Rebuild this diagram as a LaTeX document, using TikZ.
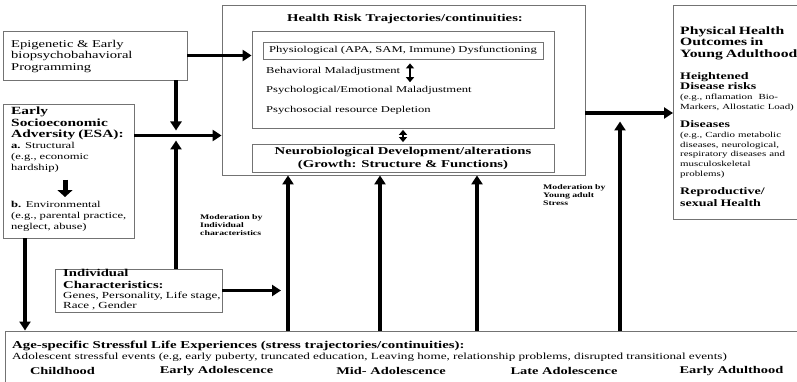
\documentclass[tikz,border=0pt]{standalone}
\usepackage{fontspec}
\setmainfont{Liberation Serif}[FakeStretch=1.4]
\usepackage{tikz}
\usetikzlibrary{arrows.meta,positioning,calc}

\begin{document}
\begin{tikzpicture}[x=1pt, y=-1pt,
    box/.style={rectangle, draw=black!55, line width=0.8pt, inner sep=0pt},
    txt/.style={inner sep=0pt, align=left, font=\fontsize{9}{11}\selectfont},
    head/.style={inner sep=0pt, align=center, font=\fontsize{10.5}{13}\selectfont\bfseries},
    modtxt/.style={inner sep=0pt, align=left, font=\fontsize{7}{8}\selectfont\bfseries},
    stage/.style={inner sep=0pt, font=\fontsize{10.3}{12}\selectfont\bfseries},
    arrow/.style={line width=3.5pt, -{Triangle[length=9pt, width=11pt]}},
    dblarrow/.style={line width=2.2pt, {Triangle[length=5pt, width=8pt]}-{Triangle[length=5pt, width=8pt]}, shorten <=1.5pt, shorten >=1.5pt},
    fatarrow/.style={line width=5pt, -{Triangle[length=7pt, width=15pt]}}
]
\useasboundingbox (0,0) rectangle (797,382);

% left column
\node[box, minimum width=184, minimum height=49] (epi) at (95,55.5) {};
\node[txt, anchor=west, font=\fontsize{10.4}{11.7}\selectfont] (epitxt) at (11,56.5) {Epigenetic \& Early\\biopsychobahavioral\\Programming};

\node[box, minimum width=131, minimum height=134] (esa) at (68.5,171) {};
\node[txt, anchor=north west, text width=122] (esaA) at (11,107) {%
  {\fontsize{11}{11.2}\selectfont\bfseries Early\\Socioeconomic\\Adversity (ESA):\par}
  {\fontsize{9}{11.2}\selectfont\textbf{a.} Structural\\(e.g., economic\\hardship)\par}};
\node[txt, anchor=north west, text width=122] (esaB) at (11,201) {%
  \textbf{b.} Environmental\\(e.g., parental practice,\\neglect, abuse)};
\coordinate (esax) at (65,0);
\draw[fatarrow, shorten <=7pt, shorten >=4pt] (esaA.south -| esax) -- (esaB.north -| esax);

\node[box, minimum width=167, minimum height=43] (ind) at (138.5,290.5) {};
\node[txt, anchor=north west, text width=165] (indtxt) at (63,269.5) {%
  {\fontsize{10.5}{11.5}\selectfont\bfseries Individual\\Characteristics:\par}
  {\fontsize{9.3}{10}\selectfont Genes, Personality, Life stage,\\Race , Gender\par}};

% health risk trajectories
\node[box, minimum width=363, minimum height=170] (outer) at (403.5,90) {};
\node[head] (title) at (405,19) {Health Risk Trajectories/continuities:};
\node[box, minimum width=302, minimum height=97] (hrt) at (403,79.5) {};
\node[box, minimum width=280, minimum height=17, font=\fontsize{9}{11}\selectfont] (physio) at (403,50.5) {Physiological (APA, SAM, Immune) Dysfunctioning};
\node[txt, anchor=west] (behav) at (266,71) {Behavioral Maladjustment};
\node[txt, anchor=west] (psych) at (266,90.5) {Psychological/Emotional Maladjustment};
\node[txt, anchor=west] (depl) at (266,110) {Psychosocial resource Depletion};
\node[box, head, minimum width=302, minimum height=28] (neuro) at (403,158) {Neurobiological Development/alterations\\(Growth: Structure \& Functions)};

% outcomes
\node[box, minimum width=126, minimum height=214, anchor=north west] (phys) at (673,5) {};
\node[txt, anchor=north west, text width=135] (phystxt) at (680,26.5) {%
  {\fontsize{11.2}{11.5}\selectfont\bfseries Physical Health\\Outcomes in\\Young Adulthood\par}
  \vspace{12pt}
  {\fontsize{10}{10}\selectfont\bfseries Heightened\\Disease risks\par}
  {\fontsize{7.8}{10}\selectfont (e.g., nflamation\ \ Bio-\\Markers, Allostatic Load)\par}
  \vspace{8pt}
  {\fontsize{10}{10}\selectfont\bfseries Diseases\par}
  {\fontsize{7.8}{9.8}\selectfont (e.g., Cardio metabolic\\diseases, neurological,\\respiratory diseases and\\musculoskeletal\\problems)\par}
  \vspace{7pt}
  {\fontsize{10}{11.5}\selectfont\bfseries Reproductive/\\sexual Health\par}};

% stress experiences
\node[box, minimum width=796, minimum height=56, anchor=north west] (stress) at (5,330.5) {};
\node[txt, anchor=west, font=\fontsize{10.6}{11}\selectfont\bfseries] (stresstitle) at (12,346) {Age-specific Stressful Life Experiences (stress trajectories/continuities):};
\node[txt, anchor=west, font=\fontsize{9.4}{11}\selectfont] (stressev) at (12,357.5) {Adolescent stressful events (e.g, early puberty, truncated education, Leaving home, relationship problems, disrupted transitional events)};
\node[stage] (child) at (62.5,371) {Childhood};
\node[stage] (early) at (216.5,371) {Early Adolescence};
\node[stage] (mid) at (391,371) {Mid- Adolescence};
\node[stage] (late) at (564,371) {Late Adolescence};
\node[stage] (adult) at (731.5,371) {Early Adulthood};

\node[modtxt, anchor=north west] (modind) at (200,214) {Moderation by\\Individual\\characteristics};
\node[modtxt, anchor=north west] (modya) at (543,184) {Moderation by\\Young adult\\Stress};

% arrows
\coordinate (meet) at (176,135.5);
\draw[arrow] (epi.east) -- (epi.east -| hrt.west);
\draw[arrow] (epi.south -| meet) -- ([yshift=5pt]meet);
\draw[arrow] (ind.north -| meet) -- ([yshift=-5pt]meet);
\draw[arrow] (esa.east |- meet) -- (outer.west |- meet);
\coordinate (esadown) at (25,0);
\draw[arrow] (esa.south -| esadown) -- (stress.north -| esadown);
\coordinate (indtip) at (281,290.5);
\draw[arrow] (ind.east) -- (indtip);
\foreach \x in {288,380,477} {
  \coordinate (up) at (\x,0);
  \draw[arrow] (stress.north -| up) -- (outer.south -| up);
}
\coordinate (outy) at (0,113);
\draw[arrow] (outer.east |- outy) -- (phys.west |- outy);
\coordinate (yatip) at (620,121.5);
\draw[arrow] (stress.north -| yatip) -- (yatip);

\draw[dblarrow] (hrt.south) -- (neuro.north);
\coordinate (bx) at (410,0);
\draw[dblarrow, shorten <=4pt, shorten >=4pt] (physio.south -| bx) -- (psych.north -| bx);

\end{tikzpicture}
\end{document}
